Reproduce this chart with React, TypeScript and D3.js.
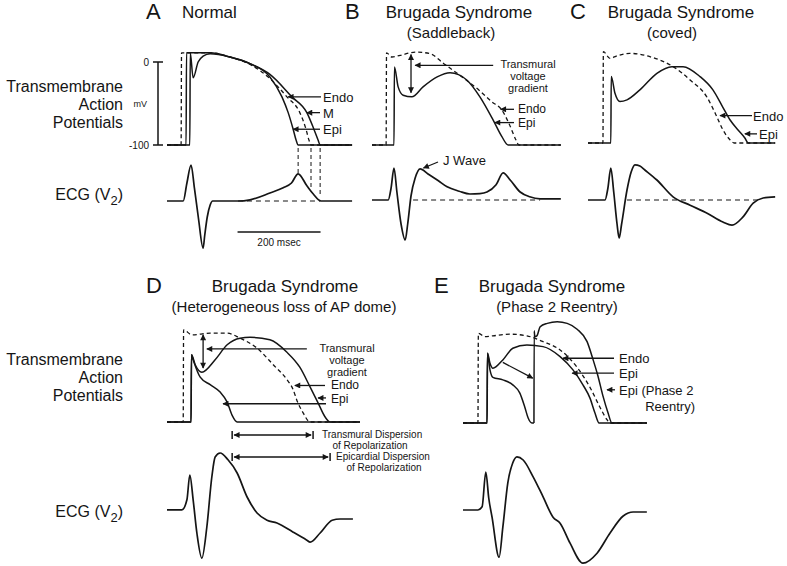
import * as d3 from 'd3';

type Pt = [number, number];

const FONT = "'Liberation Sans', Arial, Helvetica, sans-serif";
const INK = '#151515';
const MS_PX = 0.415; // 200 msec = 83 px
const MV_PX = 0.83; // 100 mV = 83 px
const ECG_PX = 40; // px per ECG unit

// ---- A: Normal (time in msec, AP in mV, ECG in arbitrary units) ----
const apA_epi: Pt[] = [[0, -100], [55, -100], [56, 11], [63, -19], [75, 0], [87, 7], [104, 10], [152, 6], [200, -2], [248, -18], [277, -42], [292, -61], [304, -81], [311, -94], [316, -100], [446, -100]];
const apA_endo: Pt[] = [[0, -100], [34, -100], [35, 11], [68, 11], [104, 11], [152, 6], [200, -3], [248, -20], [289, -42], [320, -61], [335, -81], [342, -94], [347, -100], [446, -100]];
const apA_m: Pt[] = [[0, -100], [46, -100], [47, 11], [68, 11], [104, 11], [152, 6], [200, -2], [248, -15], [301, -42], [337, -61], [354, -81], [364, -94], [369, -100], [446, -100]];
const ecgA: Pt[] = [[0, 0], [39, 0], [48, 0.45], [58, 0.9], [66, 0.33], [76, -0.45], [87, -1.18], [91, -0.85], [97, -0.4], [104, -0.1], [110, 0], [171, 0], [200, 0.03], [248, 0.2], [280, 0.33], [300, 0.45], [316, 0.68], [337, 0.38], [352, 0.18], [371, 0], [446, 0]];
const projA: Pt[] = [[316, 0.68], [347, 0.35], [369, 0.12]];
const baseA: Pt = [171, 369];

// ---- B: Saddleback ----
const apB_endo: Pt[] = [[0, -100], [34, -100], [35, 11], [48, 6], [68, 8], [106, 12], [140, 10], [173, -2], [217, -18], [258, -34], [289, -48], [313, -58], [330, -74], [347, -94], [354, -100], [455, -100]];
const apB_epi: Pt[] = [[0, -100], [53, -100], [54, -6], [63, -30], [75, -40], [96, -42], [123, -30], [157, -18], [188, -13], [229, -22], [260, -42], [292, -70], [313, -90], [328, -100], [455, -100]];
const ecgB: Pt[] = [[0, 0], [39, 0], [46, 0.3], [53, 0.8], [60, 0.2], [70, -0.6], [80, -1.0], [86, -0.6], [94, 0.1], [104, 0.55], [116, 0.78], [135, 0.65], [160, 0.48], [181, 0.33], [210, 0.22], [236, 0.15], [260, 0.16], [277, 0.2], [299, 0.38], [316, 0.68], [333, 0.5], [357, 0.2], [380, 0.08], [405, 0.03], [455, 0.03]];
const baseB: Pt = [99, 405];

// ---- C: Coved ----
const apC_endo: Pt[] = [[0, -100], [36, -100], [37, 10], [53, 2], [70, 5], [101, 8], [149, 4], [205, -8], [246, -24], [287, -45], [311, -69], [325, -84], [342, -96], [352, -100], [451, -100]];
const apC_epi: Pt[] = [[0, -100], [55, -100], [56, -20], [65, -40], [77, -50], [94, -48], [125, -36], [166, -16], [202, -8], [229, -8], [270, -20], [301, -36], [325, -57], [342, -72], [361, -84], [378, -94], [386, -100], [451, -100]];
const ecgC: Pt[] = [[0, 0], [41, 0], [48, 0.3], [55, 0.8], [62, 0.2], [70, -0.6], [75, -0.95], [81, -0.6], [94, 0.25], [104, 0.7], [113, 0.88], [125, 0.85], [137, 0.75], [166, 0.5], [205, 0.08], [246, -0.13], [287, -0.33], [325, -0.55], [347, -0.63], [373, -0.43], [398, -0.08], [422, 0.05], [451, 0.08]];
const baseC: Pt = [94, 415];

// ---- D: Heterogeneous loss of AP dome ----
const apD_endo: Pt[] = [[0, -100], [39, -100], [40, 11], [60, 5], [104, 7], [145, 7], [176, 1], [217, -11], [256, -31], [289, -49], [304, -61], [313, -74], [328, -89], [345, -100], [465, -100]];
const apD_dome: Pt[] = [[0, -100], [58, -100], [59, -19], [68, -31], [84, -40], [116, -25], [145, -7], [176, 1], [200, 2], [248, -1], [289, -16], [320, -34], [345, -58], [364, -77], [381, -94], [393, -100], [465, -100]];
const apD_epi: Pt[] = [[0, -100], [58, -100], [59, -19], [63, -25], [80, -46], [104, -55], [128, -64], [145, -76], [157, -92], [169, -100], [465, -100]];
const ecgD: Pt[] = [[0, 0.03], [36, 0.03], [48, 0.28], [55, 0.9], [63, 0.28], [72, -0.55], [84, -1.18], [96, -0.4], [108, 0.85], [116, 1.35], [128, 1.45], [147, 1.28], [169, 0.95], [193, 0.35], [217, -0.05], [241, -0.23], [265, -0.3], [304, -0.53], [337, -0.73], [345, -0.78], [369, -0.55], [398, -0.23], [417, -0.2], [448, -0.2]];
const tdrD: Pt = [157, 352];
const edrD: Pt = [157, 393];

// ---- E: Phase 2 reentry ----
const apE_endo: Pt[] = [[0, -100], [36, -100], [37, 8], [53, 4], [72, 5], [113, 7], [154, 5], [193, -2], [234, -12], [275, -33], [306, -57], [330, -81], [347, -96], [354, -100], [443, -100]];
const apE_dome: Pt[] = [[0, -100], [58, -100], [59, -16], [65, -28], [72, -34], [96, -24], [120, -10], [154, -6], [193, -8], [234, -20], [265, -36], [289, -54], [306, -70], [318, -88], [328, -100], [443, -100]];
const apE_epi: Pt[] = [[0, -100], [58, -100], [59, -16], [65, -36], [72, -45], [96, -48], [120, -54], [137, -64], [149, -81], [157, -94], [166, -100], [171, -100]];
const apE_reentry: Pt[] = [[171, -100], [171.5, 11], [173, 4], [178, 5], [186, 16], [203, 20], [227, 22], [251, 20], [275, 13], [299, -2], [313, -23], [325, -43], [337, -67], [349, -87], [359, -100], [443, -100]];
const ecgE: Pt[] = [[0, 0], [36, 0], [46, 0.08], [55, 0.95], [62, 0.3], [70, -0.18], [87, -1.18], [96, -0.43], [108, 0.68], [120, 1.18], [130, 1.33], [145, 1.25], [169, 0.83], [193, 0.33], [217, -0.18], [234, -0.33], [258, -0.83], [289, -1.33], [323, -1.08], [354, -0.58], [386, -0.15], [410, -0.05], [443, -0.05]];

// panel placement
const LAYOUT = {
  A: { x0: 167, apBase: 145, ecgBase: 201 },
  B: { x0: 372, apBase: 145, ecgBase: 200 },
  C: { x0: 588, apBase: 143, ecgBase: 200 },
  D: { x0: 167, apBase: 422, ecgBase: 511 },
  E: { x0: 463, apBase: 423, ecgBase: 510 },
};

type Layout = { x0: number; apBase: number; ecgBase: number };

function scalesFor(p: Layout) {
  const x = d3.scaleLinear().domain([0, 100]).range([p.x0, p.x0 + 100 * MS_PX]);
  const y = d3.scaleLinear().domain([-100, 0]).range([p.apBase, p.apBase - 100 * MV_PX]);
  const e = d3.scaleLinear().domain([0, 1]).range([p.ecgBase, p.ecgBase - ECG_PX]);
  return { x, y, e };
}

type Sc = (v: number) => number;

function Trace({ pts, x, y, dash, w = 1.5 }: { pts: Pt[]; x: Sc; y: Sc; dash?: string; w?: number }) {
  const line = d3.line<Pt>().x((d) => x(d[0])).y((d) => y(d[1])).curve(d3.curveMonotoneX);
  return <path d={line(pts) ?? ''} fill="none" stroke={INK} strokeWidth={w} strokeDasharray={dash} strokeLinejoin="round" />;
}

function Arrow({ x1, y1, x2, y2, both }: { x1: number; y1: number; x2: number; y2: number; both?: boolean }) {
  return (
    <line x1={x1} y1={y1} x2={x2} y2={y2} stroke={INK} strokeWidth={1.3}
      markerEnd="url(#ah)" markerStart={both ? 'url(#ah)' : undefined} />
  );
}

function Label({ x, y, size = 13, anchor = 'start', children }: { x: number; y: number; size?: number; anchor?: string; children: any }) {
  return <text x={x} y={y} fontSize={size} textAnchor={anchor} fontFamily={FONT} fill={INK}>{children}</text>;
}

// three-line "Transmural voltage gradient" callout
function Gradient({ cx, top }: { cx: number; top: number }) {
  return (
    <g>
      <Label x={cx} y={top} size={11} anchor="middle">Transmural</Label>
      <Label x={cx} y={top + 12} size={11} anchor="middle">voltage</Label>
      <Label x={cx} y={top + 24} size={11} anchor="middle">gradient</Label>
    </g>
  );
}

function RowLabels({ top, ecg }: { top: number; ecg: number }) {
  return (
    <g>
      <Label x={123} y={top} size={16} anchor="end">Transmembrane</Label>
      <Label x={123} y={top + 18} size={16} anchor="end">Action</Label>
      <Label x={123} y={top + 36} size={16} anchor="end">Potentials</Label>
      <text x={123} y={ecg} fontSize={16} textAnchor="end" fontFamily={FONT} fill={INK}>
        ECG (V<tspan fontSize={13} dy={5}>2</tspan><tspan dy={-5}>)</tspan>
      </text>
    </g>
  );
}

function Title({ letter, lx, ly, main, mx, sub, sx, sy }: { letter: string; lx: number; ly: number; main: string; mx: number; sub?: string; sx?: number; sy?: number }) {
  return (
    <g fontFamily={FONT} fill={INK}>
      <text x={lx} y={ly} fontSize={22}>{letter}</text>
      <text x={mx} y={ly - 1} fontSize={17} textAnchor={sub ? 'middle' : 'start'}>{main}</text>
      {sub && <text x={sx} y={sy} fontSize={15} textAnchor="middle">{sub}</text>}
    </g>
  );
}

function PanelA() {
  const { x, y, e } = scalesFor(LAYOUT.A);
  return (
    <g>
      <Title letter="A" lx={146} ly={19} main="Normal" mx={182} />
      {/* mV scale */}
      <line x1={158} x2={158} y1={y(0)} y2={y(-100)} stroke={INK} strokeWidth={1.5} />
      <line x1={153} x2={163} y1={y(0)} y2={y(0)} stroke={INK} strokeWidth={1.5} />
      <line x1={153} x2={163} y1={y(-100)} y2={y(-100)} stroke={INK} strokeWidth={1.5} />
      <Label x={149} y={y(0) + 4} size={10} anchor="end">0</Label>
      <Label x={149} y={y(-100) + 4} size={10} anchor="end">-100</Label>
      <Label x={147} y={y(-50) + 3} size={9} anchor="end">mV</Label>

      <Trace pts={apA_endo} x={x} y={y} dash="4,3" w={1.3} />
      <Trace pts={apA_m} x={x} y={y} />
      <Trace pts={apA_epi} x={x} y={y} />

      <Arrow x1={321} y1={y(-42)} x2={x(292)} y2={y(-42)} />
      <Arrow x1={320} y1={y(-61)} x2={x(337)} y2={y(-61)} />
      <Arrow x1={320} y1={y(-81)} x2={x(304)} y2={y(-81)} />
      <Label x={323} y={y(-42) + 5}>Endo</Label>
      <Label x={323} y={y(-61) + 5}>M</Label>
      <Label x={323} y={y(-81) + 5}>Epi</Label>

      {projA.map(([t, v]) => (
        <line key={t} x1={x(t)} x2={x(t)} y1={y(-100) + 3} y2={e(v)} stroke={INK} strokeWidth={1} strokeDasharray="4,3" />
      ))}
      <line x1={x(baseA[0])} x2={x(baseA[1])} y1={e(0)} y2={e(0)} stroke={INK} strokeWidth={1} strokeDasharray="5,4" />
      <Trace pts={ecgA} x={x} y={e} w={1.7} />

      <line x1={x(170)} x2={x(370)} y1={232} y2={232} stroke={INK} strokeWidth={1.5} />
      <Label x={x(270)} y={246} size={10} anchor="middle">200 msec</Label>
    </g>
  );
}

function PanelB() {
  const { x, y, e } = scalesFor(LAYOUT.B);
  return (
    <g>
      <Title letter="B" lx={345} ly={19} main="Brugada Syndrome" mx={459} sub="(Saddleback)" sx={451} sy={38} />
      <Trace pts={apB_endo} x={x} y={y} dash="4,3" w={1.3} />
      <Trace pts={apB_epi} x={x} y={y} />
      <Arrow x1={x(94)} y1={y(9)} x2={x(94)} y2={y(-37)} both />
      <Arrow x1={x(292)} y1={y(-4)} x2={x(104)} y2={y(-4)} />
      <Gradient cx={528} top={68} />
      <Arrow x1={514} y1={y(-57)} x2={x(310)} y2={y(-57)} />
      <Arrow x1={514} y1={y(-73)} x2={x(296)} y2={y(-73)} />
      <Label x={518} y={y(-57) + 4} size={12}>Endo</Label>
      <Label x={518} y={y(-73) + 4} size={12}>Epi</Label>

      <line x1={x(baseB[0])} x2={x(baseB[1])} y1={e(0)} y2={e(0)} stroke={INK} strokeWidth={1} strokeDasharray="5,4" />
      <Trace pts={ecgB} x={x} y={e} w={1.7} />
      <Arrow x1={x(159)} y1={e(0.95)} x2={x(124)} y2={e(0.8)} />
      <Label x={443} y={165}>J Wave</Label>
    </g>
  );
}

function PanelC() {
  const { x, y, e } = scalesFor(LAYOUT.C);
  return (
    <g>
      <Title letter="C" lx={570} ly={19} main="Brugada Syndrome" mx={681} sub="(coved)" sx={672} sy={38} />
      <Trace pts={apC_endo} x={x} y={y} dash="4,3" w={1.3} />
      <Trace pts={apC_epi} x={x} y={y} />
      <Arrow x1={752} y1={y(-67)} x2={x(318)} y2={y(-67)} />
      <Arrow x1={757} y1={y(-89)} x2={x(378)} y2={y(-89)} />
      <Label x={753} y={y(-67) + 5}>Endo</Label>
      <Label x={759} y={y(-89) + 5}>Epi</Label>

      <line x1={x(baseC[0])} x2={x(baseC[1])} y1={e(0)} y2={e(0)} stroke={INK} strokeWidth={1} strokeDasharray="5,4" />
      <Trace pts={ecgC} x={x} y={e} w={1.7} />
    </g>
  );
}

function Dispersion({ x, yy, span, l1, lx }: { x: Sc; yy: number; span: Pt; l1: string; lx: number }) {
  const a = x(span[0]);
  const b = x(span[1]);
  return (
    <g>
      <line x1={a} x2={a} y1={yy - 4} y2={yy + 4} stroke={INK} strokeWidth={1.5} />
      <line x1={b} x2={b} y1={yy - 4} y2={yy + 4} stroke={INK} strokeWidth={1.5} />
      <Arrow x1={a + 2} y1={yy} x2={b - 2} y2={yy} both />
      <Label x={lx} y={yy + 3} size={10}>{l1}</Label>
      <Label x={lx + 48} y={yy + 14} size={10} anchor="middle">of Repolarization</Label>
    </g>
  );
}

function PanelD() {
  const { x, y, e } = scalesFor(LAYOUT.D);
  return (
    <g>
      <Title letter="D" lx={146} ly={293} main="Brugada Syndrome" mx={285} sub="(Heterogeneous loss of AP dome)" sx={284} sy={312} />
      <Trace pts={apD_endo} x={x} y={y} dash="4,3" w={1.3} />
      <Trace pts={apD_dome} x={x} y={y} />
      <Trace pts={apD_epi} x={x} y={y} />
      <Arrow x1={x(87)} y1={y(5)} x2={x(87)} y2={y(-35)} both />
      <Arrow x1={x(337)} y1={y(-12)} x2={x(96)} y2={y(-12)} />
      <Gradient cx={347} top={352} />
      <Arrow x1={325} y1={y(-56)} x2={x(308)} y2={y(-56)} />
      <Arrow x1={326} y1={y(-71)} x2={x(364)} y2={y(-71)} />
      <Arrow x1={326} y1={y(-78)} x2={x(135)} y2={y(-78)} />
      <Label x={331} y={y(-56) + 4} size={12}>Endo</Label>
      <Label x={331} y={y(-72) + 4} size={12}>Epi</Label>

      <Dispersion x={x} yy={435} span={tdrD} l1="Transmural Dispersion" lx={322} />
      <Dispersion x={x} yy={457} span={edrD} l1="Epicardial Dispersion" lx={336} />

      <Trace pts={ecgD} x={x} y={e} w={1.7} />
    </g>
  );
}

function PanelE() {
  const { x, y, e } = scalesFor(LAYOUT.E);
  return (
    <g>
      <Title letter="E" lx={434} ly={293} main="Brugada Syndrome" mx={552} sub="(Phase 2 Reentry)" sx={557} sy={312} />
      <Trace pts={apE_endo} x={x} y={y} dash="4,3" w={1.3} />
      <Trace pts={apE_dome} x={x} y={y} />
      <Trace pts={apE_epi} x={x} y={y} />
      <Trace pts={apE_reentry} x={x} y={y} />
      <Arrow x1={x(96)} y1={y(-27)} x2={x(168)} y2={y(-46)} />
      <Arrow x1={614} y1={y(-22)} x2={x(241)} y2={y(-22)} />
      <Arrow x1={614} y1={y(-40)} x2={x(263)} y2={y(-40)} />
      <Arrow x1={615} y1={y(-60)} x2={x(347)} y2={y(-60)} />
      <Label x={619} y={y(-22) + 5}>Endo</Label>
      <Label x={619} y={y(-40) + 5}>Epi</Label>
      <Label x={619} y={y(-60) + 5}>Epi (Phase 2</Label>
      <Label x={695} y={y(-60) + 21} anchor="end">Reentry)</Label>

      <Trace pts={ecgE} x={x} y={e} w={1.7} />
    </g>
  );
}

export default function App() {
  return (
    <svg width={787} height={566} viewBox="0 0 787 566"
      style={{ position: 'absolute', left: 0, top: 0, background: '#fff' }}>
      <defs>
        <marker id="ah" viewBox="0 0 10 10" refX={9} refY={5} markerUnits="userSpaceOnUse"
          markerWidth={7} markerHeight={6} orient="auto-start-reverse">
          <path d="M0,0 L10,5 L0,10 z" fill={INK} />
        </marker>
      </defs>
      <RowLabels top={92} ecg={200} />
      <RowLabels top={365} ecg={517} />
      <PanelA />
      <PanelB />
      <PanelC />
      <PanelD />
      <PanelE />
    </svg>
  );
}
